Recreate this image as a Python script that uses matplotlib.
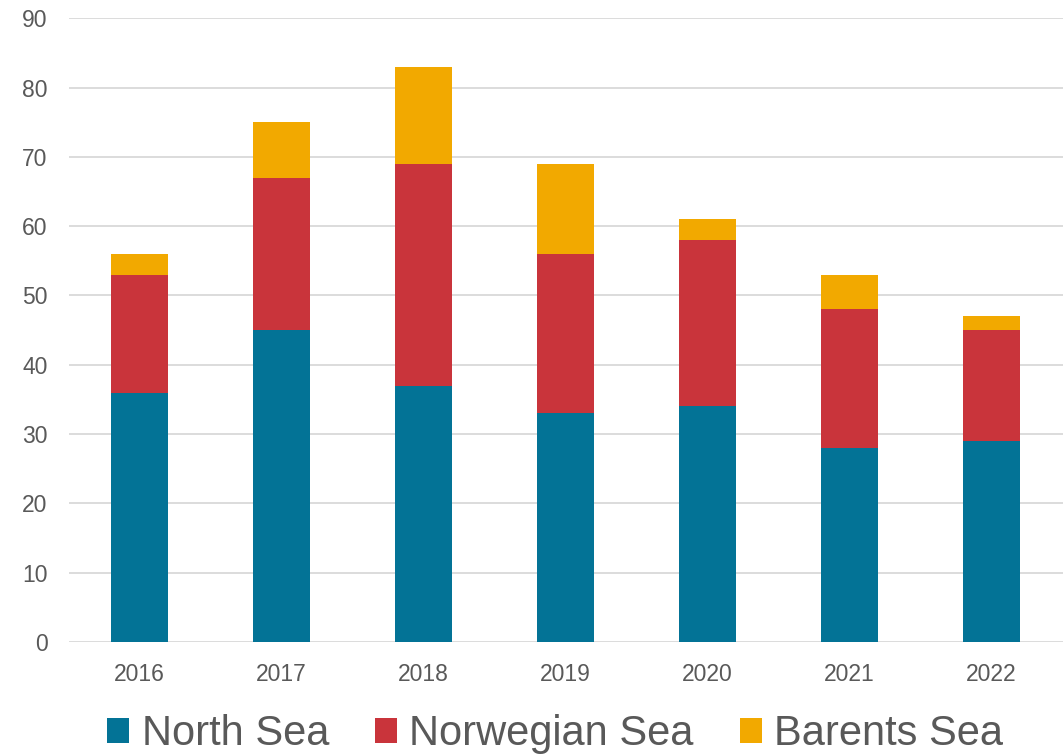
import matplotlib.pyplot as plt
import numpy as np
from matplotlib.patches import Patch

plt.rcParams['font.family'] = ['Liberation Sans', 'DejaVu Sans']

years = ['2016', '2017', '2018', '2019', '2020', '2021', '2022']
north_sea = [36, 45, 37, 33, 34, 28, 29]
norwegian_sea = [17, 22, 32, 23, 24, 20, 16]
barents_sea = [3, 8, 14, 13, 3, 5, 2]

series = ['North Sea', 'Norwegian Sea', 'Barents Sea']
colors = ['#037396', '#C9343B', '#F2A900']
text_col = '#595959'

fig = plt.figure(figsize=(10.64, 7.54), dpi=100)
ax = fig.add_axes([68.5 / 1064, 1 - 642 / 754, 994 / 1064, (642 - 18.3) / 754])

x = np.arange(len(years))
bottom = np.zeros(len(years))
for vals, c in zip([north_sea, norwegian_sea, barents_sea], colors):
    ax.bar(x, vals, width=0.4, bottom=bottom, color=c, zorder=3)
    bottom += np.array(vals)

ax.set_xlim(-0.5, len(years) - 0.5)
ax.set_ylim(0, 90)
ax.set_yticks(range(0, 91, 10))
ax.set_xticks(x)
ax.set_xticklabels(years)
ax.grid(axis='y', color='#D9D9D9', linewidth=1.3, zorder=0)
for s in ax.spines.values():
    s.set_visible(False)
ax.tick_params(axis='both', length=0, labelsize=16.5, colors=text_col)
ax.tick_params(axis='y', pad=15)
ax.tick_params(axis='x', pad=15)

handles = [Patch(facecolor=c, edgecolor='none') for c in colors]
fig.legend(handles, series, loc='center', bbox_to_anchor=(555 / 1064, 1 - 734 / 754),
           ncol=3, frameon=False, fontsize=30, handlelength=0.53, handleheight=0.53,
           handletextpad=0.3, columnspacing=1.1, labelcolor=text_col, borderpad=0)

fig.savefig('out.png', dpi=100)
